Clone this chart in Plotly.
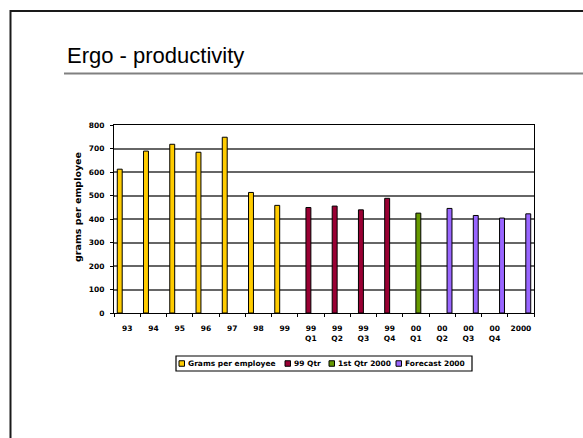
import plotly.graph_objects as go

# ---- data ---------------------------------------------------------------
categories = ["93", "94", "95", "96", "97", "98", "99",
              "99<br>Q1", "99<br>Q2", "99<br>Q3", "99<br>Q4",
              "00<br>Q1", "00<br>Q2", "00<br>Q3", "00<br>Q4", "2000"]

grams_per_employee = [612, 689, 718, 684, 748, 513, 458,
                      None, None, None, None, None, None, None, None, None]
qtr_99 = [None, None, None, None, None, None, None,
          449, 455, 439, 488, None, None, None, None, None]
qtr1_2000 = [None, None, None, None, None, None, None,
             None, None, None, None, 425, None, None, None, None]
forecast_2000 = [None, None, None, None, None, None, None,
                 None, None, None, None, None, 445, 415, 404, 422]

series_names = ["Grams per employee", "99 Qtr", "1st Qtr 2000", "Forecast 2000"]
series_values = [grams_per_employee, qtr_99, qtr1_2000, forecast_2000]
series_colors = ["#FFCC00", "#990033", "#669900", "#9966FF"]

y_ticks = [0, 100, 200, 300, 400, 500, 600, 700, 800]
y_title = "grams per employee"

# ---- layout geometry (pixels) -------------------------------------------
W, H = 583, 438
ML, MR, MT, MB = 114, 49, 125, 125
PW, PH = W - ML - MR, H - MT - MB


def px(x):
    return (x - ML) / PW


def py(y):
    return (H - MB - y) / PH


BOLD = dict(family="DejaVu Sans", size=7.5, color="black", weight="bold")

fig = go.Figure()
for name, vals, col in zip(series_names, series_values, series_colors):
    fig.add_trace(go.Bar(
        x=categories, y=vals, name=name,
        marker=dict(color=col, line=dict(color="black", width=1)),
        showlegend=False,
    ))

fig.update_layout(
    width=W, height=H,
    margin=dict(l=ML, r=MR, t=MT, b=MB, pad=0),
    paper_bgcolor="white", plot_bgcolor="white",
    barmode="group", bargap=0.25, bargroupgap=0,
    font=dict(family="Liberation Sans", color="black"),
)

fig.update_xaxes(
    type="category", categoryorder="array", categoryarray=categories,
    tickson="boundaries", ticks="outside", ticklen=3, tickcolor="black",
    ticklabelstandoff=8,
    showline=True, linecolor="black", linewidth=1, mirror=True,
    showgrid=False, tickfont=BOLD, tickangle=0,
)
fig.update_yaxes(
    range=[0, 800], tickvals=y_ticks,
    ticks="outside", ticklen=3, tickcolor="black", ticklabelstandoff=4,
    showline=True, linecolor="black", linewidth=1, mirror=True,
    showgrid=True, gridcolor="#666666", gridwidth=1.6, zeroline=False,
    tickfont=BOLD,
)

# vertical axis caption
fig.add_annotation(text=y_title, xref="paper", yref="paper",
                   x=px(77), y=py(207), xanchor="center", yanchor="middle",
                   textangle=-90, showarrow=False,
                   font=dict(family="DejaVu Sans", size=9.5, color="black", weight="bold"))

# slide frame and title rule
fig.add_shape(type="rect", xref="paper", yref="paper",
              x0=px(10.5), y0=py(460), x1=px(620), y1=py(11),
              line=dict(color="#1a1a1a", width=2), fillcolor="rgba(0,0,0,0)",
              layer="below")
fig.add_shape(type="line", xref="paper", yref="paper",
              x0=px(64), y0=py(73.5), x1=px(600), y1=py(73.5),
              line=dict(color="#808080", width=2))

fig.add_annotation(text="Ergo - productivity", xref="paper", yref="paper",
                   x=px(65), y=py(55), xanchor="left", yanchor="middle",
                   showarrow=False,
                   font=dict(family="Liberation Sans", size=22, color="black"))

# legend box drawn beneath the chart
LEG_X0, LEG_X1, LEG_Y0, LEG_Y1 = 176, 472, 356, 371
swatch_left = [179, 285, 329, 396]
SW = 5.5
fig.add_shape(type="rect", xref="paper", yref="paper",
              x0=px(LEG_X0), y0=py(LEG_Y1), x1=px(LEG_X1), y1=py(LEG_Y0),
              line=dict(color="black", width=1.2), fillcolor="white")
ymid = (LEG_Y0 + LEG_Y1) / 2
for name, col, sx in zip(series_names, series_colors, swatch_left):
    fig.add_shape(type="rect", xref="paper", yref="paper",
                  x0=px(sx), y0=py(ymid + SW / 2), x1=px(sx + SW), y1=py(ymid - SW / 2),
                  line=dict(color="black", width=1), fillcolor=col)
    fig.add_annotation(text=name, xref="paper", yref="paper",
                       x=px(sx + SW + 1.5), y=py(ymid), xanchor="left", yanchor="middle",
                       showarrow=False,
                       font=dict(family="DejaVu Sans", size=7.5, color="black", weight="bold"))

fig.write_html("out.html")
